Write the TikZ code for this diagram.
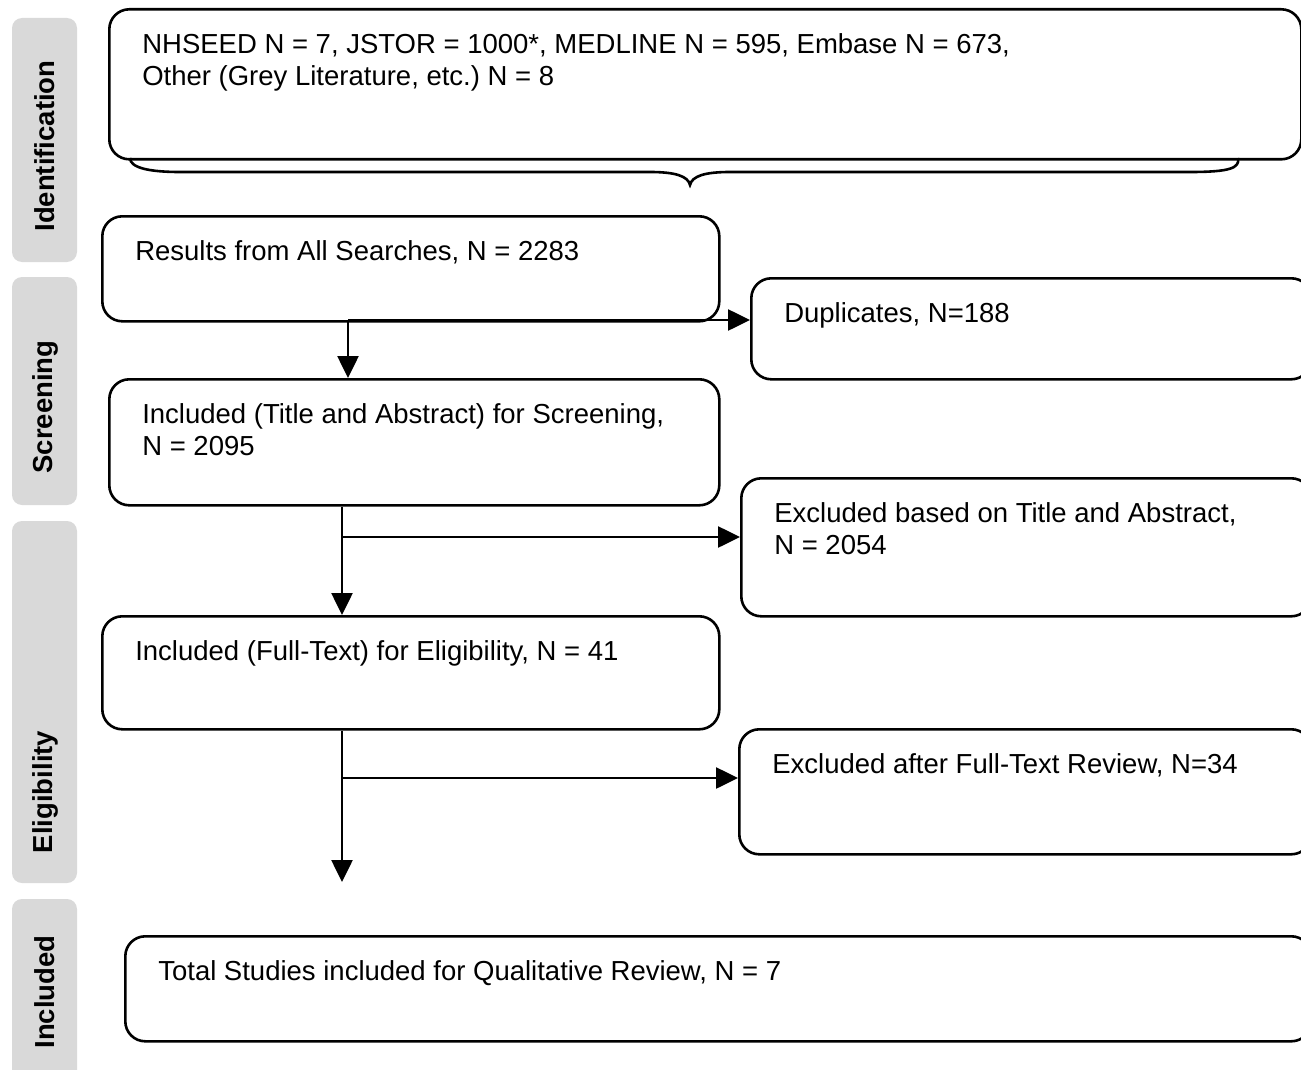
\documentclass[tikz,border=0pt]{standalone}
\usepackage{fontspec}
\setmainfont{Liberation Sans}
\usetikzlibrary{arrows.meta}
\begin{document}
\begin{tikzpicture}[x=0.5pt,y=-0.5pt,
    box/.style={draw,line width=1.3pt,rounded corners=10pt,anchor=north west,
      inner xsep=16.5pt,inner ysep=12pt,font=\fontsize{13.75}{16}\selectfont},
    phase/.style={fill=gray!30,rounded corners=5pt},
    phasetext/.style={rotate=90,font=\fontsize{13.75}{16}\selectfont\bfseries},
    arr/.style={line width=1.3pt,-{Triangle[length=11pt,width=10.5pt]}}]
  \useasboundingbox (0,0) rectangle (1301,1070);
  \fill[phase] (12,18) rectangle (77,262);
  \fill[phase] (12,277) rectangle (77,505);
  \fill[phase] (12,521) rectangle (77,883);
  \fill[phase] (12,899) rectangle (77,1090);
  \node[phasetext] (pid) at (45,146) {Identification};
  \node[phasetext] (pscr) at (45,407) {Screening};
  \node[phasetext] (pel) at (45,792) {Eligibility};
  \node[phasetext] (pinc) at (45,992) {Included};
  \node[box] (src) at (108,8) {\parbox[t][51pt][t]{563pt}{NHSEED N = 7, JSTOR = 1000*, MEDLINE N = 595, Embase N = 673,\\Other (Grey Literature, etc.)\ N = 8}};
  \draw[line width=1.3pt] (130,158) .. controls (130,168) and (150,172) .. (180,172) -- (650,172)
    .. controls (675,172) and (688,176) .. (690,185) .. controls (692,176) and (705,172) .. (730,172)
    -- (1190,172) .. controls (1230,172) and (1240,168) .. (1238,158);
  \node[box] (res) at (101,215) {\parbox[t][28.5pt][t]{275.5pt}{Results from All Searches, N = 2283}};
  \node[box] (dup) at (750,277) {\parbox[t][26.5pt][t]{247pt}{Duplicates, N=188}};
  \node[box] (scr) at (108,378) {\parbox[t][39pt][t]{272pt}{Included (Title and Abstract) for Screening,\\N = 2095}};
  \node[box] (exa) at (740,477) {\parbox[t][45pt][t]{252pt}{Excluded based on Title and Abstract,\\N = 2054}};
  \node[box] (full) at (101,615) {\parbox[t][32.5pt][t]{275.5pt}{Included (Full-Text) for Eligibility, N = 41}};
  \node[box] (exb) at (738,728) {\parbox[t][38.5pt][t]{253pt}{Excluded after Full-Text Review, N=34}};
  \node[box] (tot) at (124,935) {\parbox[t][28.5pt][t]{560pt}{Total Studies included for Qualitative Review, N = 7}};
  \coordinate (s1) at (348,320);
  \coordinate (s2) at (342,537);
  \coordinate (s3) at (342,778);
  \coordinate (e3) at (342,882);
  \draw[arr] (s1) -- (s1 -| dup.west);
  \draw[arr] (s1) -- (s1 |- scr.north);
  \draw[arr] (scr.south -| s2) -- (full.north -| s2);
  \draw[arr] (s2) -- (s2 -| exa.west);
  \draw[arr] (full.south -| s3) -- (e3);
  \draw[arr] (s3) -- (s3 -| exb.west);
\end{tikzpicture}
\end{document}
